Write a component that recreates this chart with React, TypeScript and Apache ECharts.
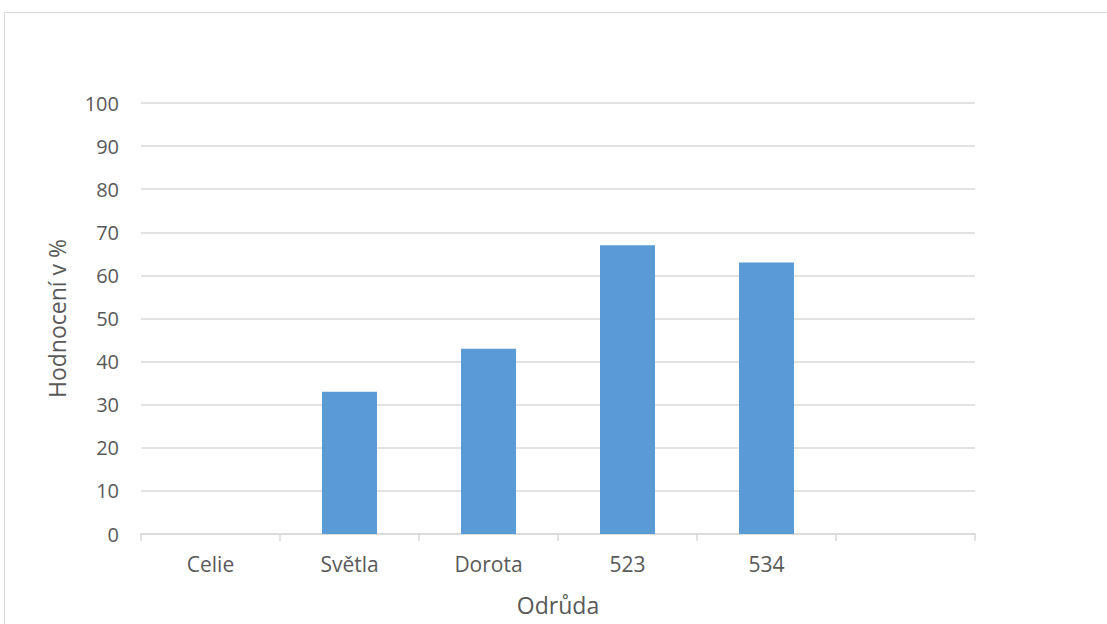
import React, { useEffect, useRef } from "react";
import * as echarts from "echarts";

const categories = ["Celie", "Světla", "Dorota", "523", "534", ""];
const values: (number | null)[] = [null, 33, 43, 67, 63, null];
const yTicks = { min: 0, max: 100, interval: 10 };
const xAxisName = "Odrůda";
const yAxisName = "Hodnocení v %";

export default function App() {
  const ref = useRef<HTMLDivElement>(null);
  useEffect(() => {
    document.body.style.margin = "0";
    const chart = echarts.init(ref.current!, null, { renderer: "svg" });
    const font = "'Open Sans', 'Liberation Sans', sans-serif";
    chart.setOption({
      animation: false,
      backgroundColor: "#ffffff",
      graphic: [
        {
          type: "rect",
          shape: { x: 4.5, y: 12.5, width: 1200, height: 700 },
          style: { fill: "none", stroke: "#d9d9d9", lineWidth: 1 },
          silent: true,
        },
      ],
      grid: { left: 141, right: 132, top: 103, bottom: 90, outerBoundsMode: "none", containLabel: false },
      xAxis: {
        type: "category",
        data: categories,
        name: xAxisName,
        nameLocation: "middle",
        nameGap: 59,
        nameTextStyle: { color: "#595959", fontSize: 23, fontFamily: font },
        axisLine: { lineStyle: { color: "#d9d9d9", width: 1.5 } },
        axisTick: { show: true, length: 7, lineStyle: { color: "#d9d9d9", width: 1.5 } },
        axisLabel: { color: "#595959", fontSize: 21, fontFamily: font, margin: 19 },
      },
      yAxis: {
        type: "value",
        min: yTicks.min,
        max: yTicks.max,
        interval: yTicks.interval,
        name: yAxisName,
        nameLocation: "middle",
        nameGap: 73,
        nameTextStyle: { color: "#595959", fontSize: 23, fontFamily: font },
        axisLine: { show: false },
        axisTick: { show: false },
        axisLabel: { color: "#595959", fontSize: 20, fontFamily: font, margin: 22 },
        splitLine: { lineStyle: { color: "#d9d9d9", width: 1.5 } },
      },
      series: [
        {
          type: "bar",
          data: values,
          barWidth: 55,
          itemStyle: { color: "#5b9bd5" },
        },
      ],
    });
    return () => chart.dispose();
  }, []);
  return (
    <div
      ref={ref}
      style={{ position: "absolute", left: 0, top: 0, width: 1107, height: 624 }}
    />
  );
}
